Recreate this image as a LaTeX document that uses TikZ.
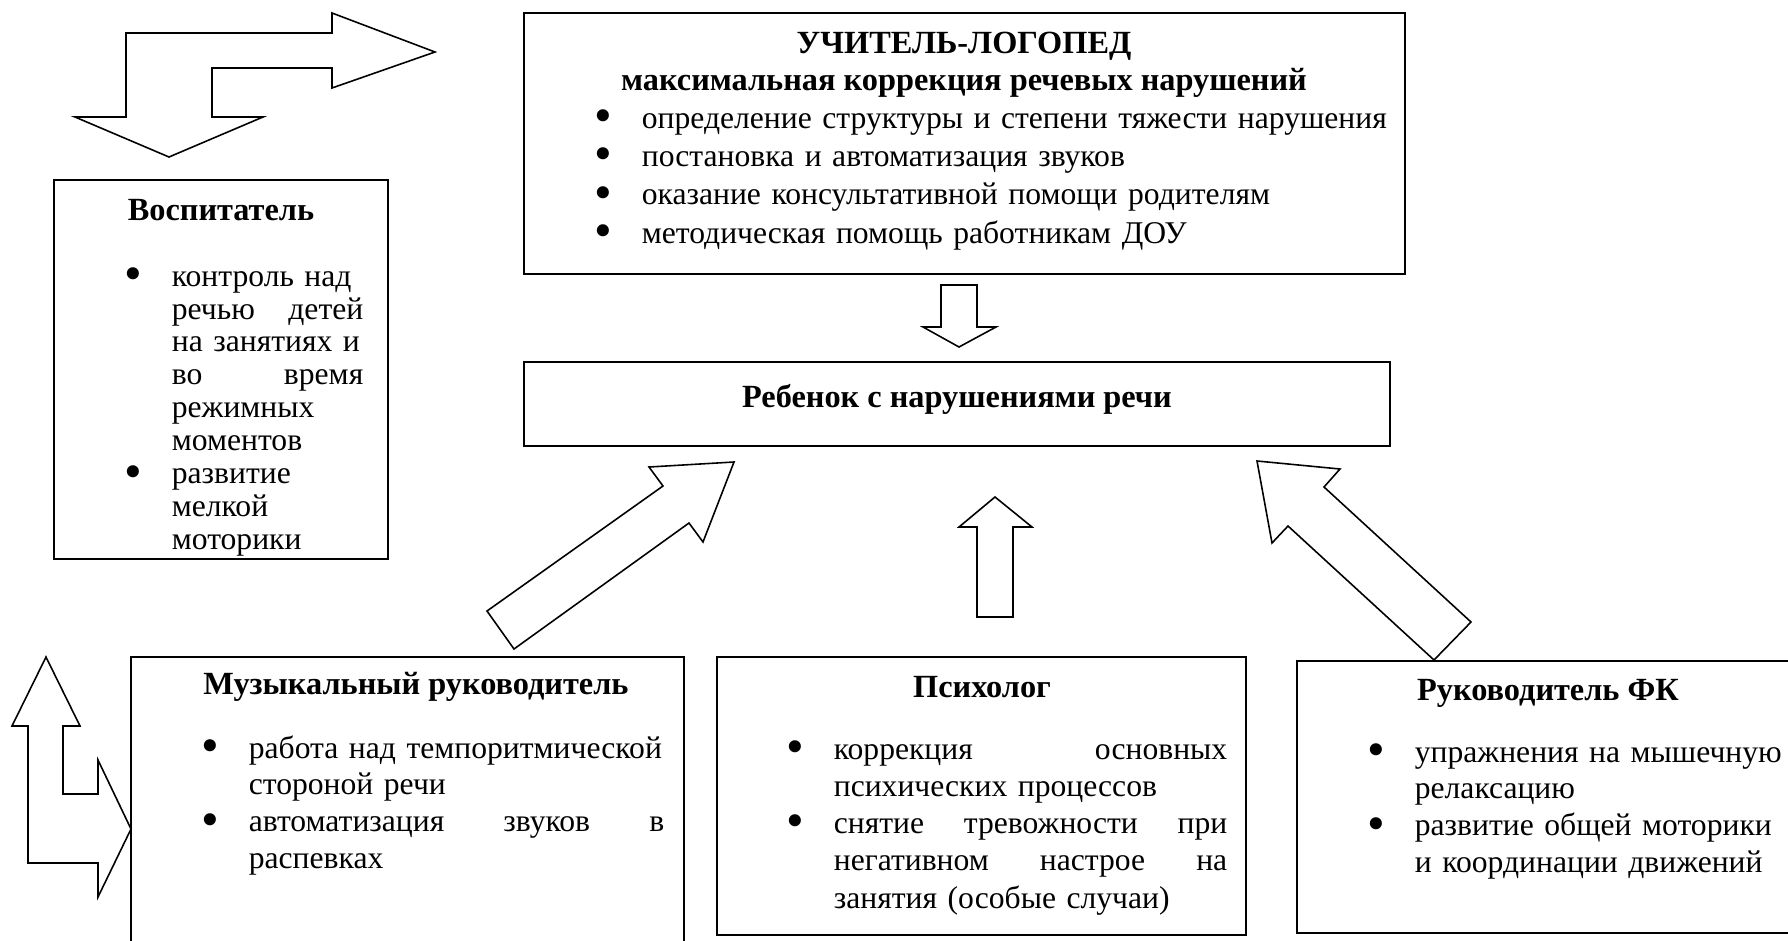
\documentclass[tikz,border=0pt]{standalone}
\usepackage{fontspec}
\usepackage{graphicx}
\setmainfont{Liberation Serif}
\usetikzlibrary{fit}
\setlength{\parskip}{0pt}

% one bulleted item with hanging indent
\newcommand{\itm}[1]{{\hangindent=0.94cm\hangafter=1\noindent
  \hbox to 0.94cm{\smash{\raisebox{-0.14em}{\scalebox{1.6}{\textbullet}}}\hfil}#1\par}}

\begin{document}
\begin{tikzpicture}[x=0.02cm,y=-0.02cm,
  box/.style={draw,line width=1.1pt,inner sep=0pt},
  blockarrow/.style={draw,line width=0.9pt,line join=miter,fill=white},
  title/.style={anchor=base,inner sep=0pt,font=\fontsize{18.4pt}{21pt}\selectfont\bfseries},
  list/.style={anchor=base west,inner sep=0pt,align=left}]
\useasboundingbox (0,0) rectangle (1788,940);

% boxes
\node[box,fit={(524,13) (1405,274)}] (logoped) {};
\node[box,fit={(524,362) (1390,446)}] (child) {};
\node[box,fit={(54,180) (388,559)}] (teacher) {};
\node[box,fit={(131,657) (684,960)}] (music) {};
\node[box,fit={(717,657) (1246,935)}] (psych) {};
\node[box,fit={(1297,661) (1800,933)}] (sport) {};

% texts
\node[title] (logopedtitle) at (964,53) {УЧИТЕЛЬ-ЛОГОПЕД};
\node[title] (logopedgoal) at (964,90) {максимальная коррекция речевых нарушений};
\node[list,text width=16.11cm,font=\fontsize{18pt}{21.9pt}\selectfont] (logopedlist) at (594.5,128)
  {\itm{определение структуры и степени тяжести нарушения}
   \itm{постановка и автоматизация звуков}
   \itm{оказание консультативной помощи родителям}
   \itm{методическая помощь работникам ДОУ}};

\node[title] (childtitle) at (957,407) {Ребенок с нарушениями речи};

\node[title] (teachertitle) at (221,220) {Воспитатель};
\node[list,text width=4.77cm,font=\fontsize{18pt}{18.78pt}\selectfont] (teacherlist) at (124.5,286)
  {\itm{контроль над\newline речью\hfill детей\newline на занятиях и\newline во\hfill время\newline режимных\newline моментов}
   \itm{развитие\newline мелкой\newline моторики}};

\node[title] (musictitle) at (416,694) {Музыкальный руководитель};
\node[list,text width=9.25cm,font=\fontsize{18pt}{21.05pt}\selectfont] (musiclist) at (201.5,758)
  {\itm{работа над темпоритмической\newline стороной речи}
   \itm{автоматизация\hfill звуков\hfill в\newline распевках}};

\node[title] (psychtitle) at (982,697) {Психолог};
\node[list,text width=8.81cm,font=\fontsize{18pt}{21.2pt}\selectfont] (psychlist) at (786.5,759)
  {\itm{коррекция\hfill основных\newline психических процессов}
   \itm{снятие\hfill тревожности\hfill при\newline негативном\hfill настрое\hfill на\newline занятия (особые случаи)}};

\node[title] (sporttitle) at (1548,700) {Руководитель ФК};
\node[list,text width=8.29cm,font=\fontsize{18pt}{21.05pt}\selectfont] (sportlist) at (1367.5,762)
  {\itm{упражнения на мышечную\newline релаксацию}
   \itm{развитие общей моторики\newline и координации движений}};

% block arrows
\draw[blockarrow] (126,33) -- (332,33) -- (332,13) -- (435,52) -- (332,88) -- (332,68) -- (212,68)
  -- (212,117) -- (263,117) -- (169,157) -- (75,117) -- (126,117) -- cycle;
\draw[blockarrow] (46,657) -- (80,726) -- (63,726) -- (63,794) -- (98,794) -- (98,760) -- (131,829)
  -- (98,897) -- (98,863) -- (28,863) -- (28,726) -- (12,726) -- cycle;
\draw[blockarrow] (941,285) -- (977,285) -- (977,327) -- (996,327) -- (959,347) -- (923,327) -- (941,327) -- cycle;
\draw[blockarrow] (995,497) -- (1032,527) -- (1013,527) -- (1013,617) -- (977,617) -- (977,527) -- (959,527) -- cycle;
\draw[blockarrow] (734,462) -- (703,542) -- (689,523) -- (514,649) -- (487,611) -- (663,486) -- (649,467) -- cycle;
\draw[blockarrow] (1257,461) -- (1340,469) -- (1324,487) -- (1471,622) -- (1434,660) -- (1288,526) -- (1272,543) -- cycle;
\end{tikzpicture}
\end{document}
